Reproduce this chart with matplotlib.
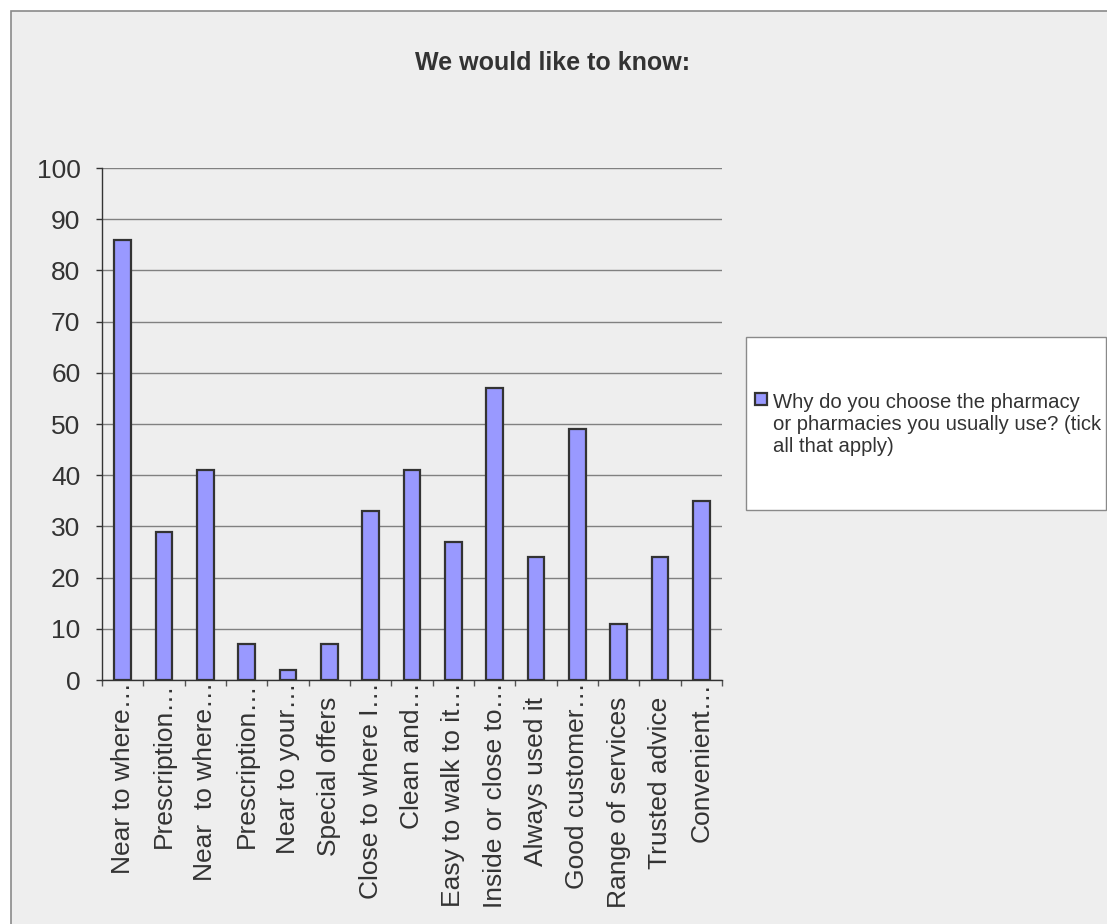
import matplotlib
matplotlib.use("Agg")
import matplotlib.pyplot as plt
from matplotlib.patches import Rectangle
from matplotlib.ticker import FixedLocator, MultipleLocator
from matplotlib.transforms import ScaledTranslation

# --- data ---------------------------------------------------------------
categories = [
    "Near to where…", "Prescription…", "Near  to where…", "Prescription…",
    "Near to your…", "Special offers", "Close to where I…", "Clean and…",
    "Easy to walk to it…", "Inside or close to…", "Always used it",
    "Good customer…", "Range of services", "Trusted advice", "Convenient…",
]
values = [86, 29, 41, 7, 2, 7, 33, 41, 27, 57, 24, 49, 11, 24, 35]
series_name = ("Why do you choose the pharmacy\n"
               "or pharmacies you usually use? (tick\n"
               "all that apply)")
title = "We would like to know:"

# --- figure ---------------------------------------------------------------
W, H = 1107, 924
plt.rcParams["font.family"] = ["Liberation Sans", "DejaVu Sans"]
fig = plt.figure(figsize=(W / 100, H / 100), dpi=100, facecolor="white")

# chart area panel with grey border (runs off the right and bottom edges)
panel = Rectangle((11 / W, -0.05), 1.2, 1 - 10.5 / H + 0.05,
                  transform=fig.transFigure, facecolor="#eeeeee",
                  edgecolor="#8a8a8a", linewidth=1.2, zorder=-2)
fig.patches.append(panel)

# legend box
box = Rectangle((746 / W, 1 - 510 / H), 360 / W, 173 / H,
                transform=fig.transFigure, facecolor="white",
                edgecolor="#8a8a8a", linewidth=1.0, zorder=-1)
fig.patches.append(box)

ax = fig.add_axes([102 / W, 1 - 680 / H, 620 / W, 512 / H])
ax.set_facecolor("none")

x = list(range(len(values)))
ax.bar(x, values, width=0.41, color="#9999ff", edgecolor="#333333",
       linewidth=1.6, zorder=3, label=series_name)

ax.set_xlim(-0.5, len(values) - 0.5)
ax.set_ylim(0, 100)
ax.yaxis.set_major_locator(MultipleLocator(10))
ax.grid(axis="y", color="#808080", linewidth=1.0, zorder=1)
ax.set_axisbelow(True)

for s in ("top", "right"):
    ax.spines[s].set_visible(False)
for s in ("left", "bottom"):
    ax.spines[s].set_color("#333333")
    ax.spines[s].set_linewidth(1.0)

ax.set_xticks(x)
ax.set_xticklabels(categories, rotation=90, fontsize=19, color="#333333")
ax.xaxis.set_minor_locator(FixedLocator([i - 0.5 for i in range(len(values) + 1)]))
ax.tick_params(axis="x", which="major", length=0, pad=1.5)
ax.tick_params(axis="x", which="minor", length=4.5, width=1.0, color="#555555")
ax.tick_params(axis="y", which="major", length=4.5, width=1.0, color="#333333",
               labelsize=19, labelcolor="#333333", pad=11)

# untruncated category names sit lower than the clipped ones
shift = ScaledTranslation(0, -15 / 100, fig.dpi_scale_trans)
for lbl in ax.get_xticklabels():
    if not lbl.get_text().endswith("…"):
        lbl.set_transform(lbl.get_transform() + shift)

leg = ax.legend(loc="center left", bbox_to_anchor=(755 / W, 1 - 424 / H),
                bbox_transform=fig.transFigure, frameon=False, fontsize=14.6,
                handlelength=0.6, handleheight=0.6, handletextpad=0.3,
                labelspacing=0.2, borderpad=0, borderaxespad=0,
                labelcolor="#333333")
# put the swatch next to the first line of the wrapped label
for column in leg._legend_handle_box.get_children():
    for row in column.get_children():
        row.align = "top"

fig.text(553 / W, 1 - 63 / H, title, ha="center", va="center",
         fontsize=18, fontweight="bold", color="#333333")

fig.savefig("out.png", dpi=100, facecolor="white")
